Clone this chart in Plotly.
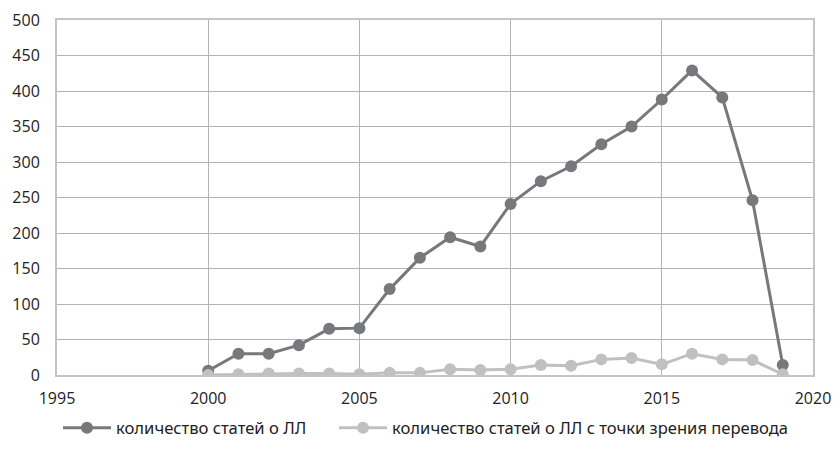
import plotly.graph_objects as go

years = list(range(2000, 2020))
articles_total = [6, 30, 30, 42, 65, 66, 121, 165, 194, 181, 241, 273, 294, 325, 350, 388, 429, 391, 246, 14]
articles_translation = [0, 1, 2, 2, 2, 1, 3, 3, 8, 7, 8, 14, 13, 22, 24, 15, 30, 22, 21, 1]
series_names = ["количество статей о ЛЛ", "количество статей о ЛЛ с точки зрения перевода"]
x_ticks = [1995, 2000, 2005, 2010, 2015, 2020]
y_ticks = list(range(0, 501, 50))

fig = go.Figure()
fig.add_trace(go.Scatter(x=years, y=articles_total, mode="lines+markers", name=series_names[0],
                         line=dict(color="#77787b", width=3),
                         marker=dict(color="#77787b", size=12), legend="legend"))
fig.add_trace(go.Scatter(x=years, y=articles_translation, mode="lines+markers", name=series_names[1],
                         line=dict(color="#bfc0c2", width=3),
                         marker=dict(color="#bfc0c2", size=12), legend="legend2"))

leg_common = dict(orientation="h", xanchor="left", xref="container",
                  y=26 / 454, yanchor="middle", yref="container",
                  font=dict(family="Noto Sans, Open Sans", size=16.6, color="#222222"),
                  bgcolor="rgba(0,0,0,0)", itemwidth=48)

fig.update_layout(
    width=835, height=454,
    margin=dict(l=57, r=22, t=20, b=79),
    paper_bgcolor="white", plot_bgcolor="white",
    font=dict(family="Open Sans, Noto Sans", size=16, color="#222222"),
    showlegend=True,
    legend=dict(x=58 / 835, **leg_common),
    legend2=dict(x=334 / 835, **leg_common),
    xaxis=dict(range=[1995, 2020], tickvals=x_ticks, showgrid=True, gridcolor="#b4b4b4", gridwidth=1,
               showline=True, linecolor="#c4c4c4", linewidth=2, mirror=True, zeroline=False,
               ticks="outside", ticklen=8, tickcolor="rgba(0,0,0,0)", automargin=False,
               tickfont=dict(size=16)),
    yaxis=dict(range=[0, 500], tickvals=y_ticks, showgrid=True, gridcolor="#b4b4b4", gridwidth=1,
               showline=True, linecolor="#c4c4c4", linewidth=2, mirror=True, zeroline=False,
               ticks="outside", ticklen=12, tickcolor="rgba(0,0,0,0)", automargin=False,
               tickfont=dict(size=16)),
)
fig.write_html("out.html", config={"displayModeBar": False},
               post_script="document.body.style.margin='0';")
